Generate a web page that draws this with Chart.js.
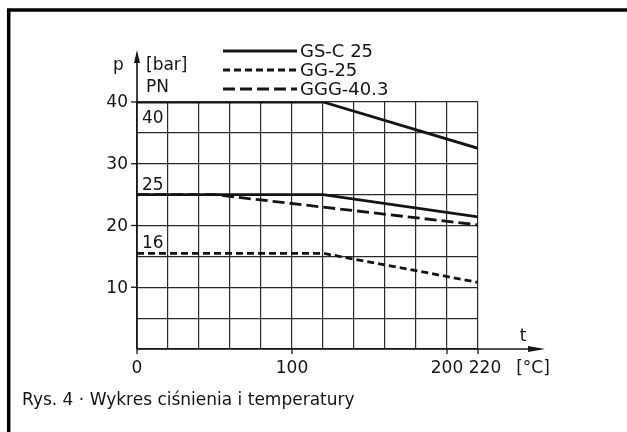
<!DOCTYPE html>
<html>
<head>
<meta charset="utf-8">
<script src="https://cdn.jsdelivr.net/npm/chart.js@4.4.0/dist/chart.umd.min.js"></script>
<style>
  body { margin: 0; background: #fff; }
  canvas { display: block; }
</style>
</head>
<body>
<canvas id="chart" width="627" height="432"></canvas>
<script>
let seriesNames = ["GS-C 25", "GG-25", "GGG-40.3"];

// GS-C 25 (PN 40 and PN 25)
let gsc40Temp = [0, 120, 220];
let gsc40Bar = [40, 40, 32.5];
let gsc25Temp = [0, 120, 220];
let gsc25Bar = [25, 25, 21.4];
// GG-25 (PN 16)
let gg16Temp = [0, 120, 220];
let gg16Bar = [15.5, 15.5, 10.8];
// GGG-40.3 (PN 25)
let ggg25Temp = [0, 50, 220];
let ggg25Bar = [25, 25, 20.1];

let xTickLabels = [0, 100, 200, 220];
let yTickLabels = [10, 20, 30, 40];
let pnLabels = ["40", "25", "16"];
let pnLevels = [40, 25, 15.5];

let caption = "Rys. 4 · Wykres ciśnienia i temperatury";

function toPoints(xs, ys) {
    var out = [];
    for (var i = 0; i < xs.length; i++) {
        out.push({x: xs[i], y: ys[i]});
    }
    return out;
}

let ink = "#141414";
let fontName = "'DejaVu Sans', sans-serif";
let dashes = [[], [7, 4], [12, 5]];

function line(ctx, x1, y1, x2, y2) {
    ctx.beginPath();
    ctx.moveTo(x1, y1);
    ctx.lineTo(x2, y2);
    ctx.stroke();
}

let extras = {
    id: "extras",
    beforeDraw(chart) {
        let ctx = chart.ctx;
        ctx.save();
        ctx.fillStyle = "#fff";
        ctx.fillRect(0, 0, chart.width, chart.height);
        // frame, open to the right and bottom
        ctx.strokeStyle = "#000";
        ctx.lineWidth = 3.5;
        ctx.beginPath();
        ctx.moveTo(8.7, chart.height + 5);
        ctx.lineTo(8.7, 10);
        ctx.lineTo(chart.width + 5, 10);
        ctx.stroke();
        ctx.restore();
    },
    afterDraw(chart) {
        let ctx = chart.ctx;
        let xs = chart.scales.x;
        let ys = chart.scales.y;
        let x0 = xs.getPixelForValue(0);
        let y0 = ys.getPixelForValue(0);
        ctx.save();
        ctx.strokeStyle = ink;
        ctx.fillStyle = ink;

        // axes with arrows
        ctx.lineWidth = 1.6;
        line(ctx, x0, y0, x0, 58);
        line(ctx, x0, y0, 535, y0);
        ctx.beginPath();
        ctx.moveTo(x0, 50);
        ctx.lineTo(x0 - 3, 63);
        ctx.lineTo(x0 + 3, 63);
        ctx.closePath();
        ctx.fill();
        ctx.beginPath();
        ctx.moveTo(545, y0);
        ctx.lineTo(528, y0 - 3);
        ctx.lineTo(528, y0 + 3);
        ctx.closePath();
        ctx.fill();

        // tick marks
        ctx.lineWidth = 1.3;
        yTickLabels.forEach(v => {
            let py = ys.getPixelForValue(v);
            line(ctx, x0 - 6, py, x0, py);
        });
        xTickLabels.forEach(v => {
            let px = xs.getPixelForValue(v);
            line(ctx, px, y0, px, y0 + 5);
        });

        ctx.font = "17px " + fontName;
        ctx.textBaseline = "middle";
        ctx.textAlign = "right";
        yTickLabels.forEach(v => {
            ctx.fillText(String(v), x0 - 9, ys.getPixelForValue(v) + 1);
        });
        ctx.textBaseline = "alphabetic";
        ctx.textAlign = "center";
        xTickLabels.forEach((v, i) => {
            let shift = (i == xTickLabels.length - 1) ? 7 : 0;
            ctx.fillText(String(v), xs.getPixelForValue(v) + shift, 373);
        });
        ctx.fillText("[°C]", 533, 373);
        ctx.fillText("t", 523, 341);

        ctx.textAlign = "left";
        ctx.fillText("p", 113, 70);
        ctx.fillText("[bar]", 146, 70);
        ctx.fillText("PN", 146, 92);

        // PN labels by the curves
        pnLabels.forEach((t, i) => {
            let py = ys.getPixelForValue(pnLevels[i]);
            let off = (i == 0) ? 21 : -5;
            ctx.fillText(t, x0 + 5, py + off);
        });

        // legend
        ctx.font = "18px " + fontName;
        seriesNames.forEach((name, i) => {
            let ly = 51 + i * 19;
            ctx.lineWidth = 2.8;
            ctx.setLineDash(dashes[i]);
            line(ctx, 223, ly, 297, ly);
            ctx.setLineDash([]);
            ctx.fillText(name, 300, ly + 6);
        });

        ctx.font = "17px " + fontName;
        ctx.fillText(caption, 22, 405);
        ctx.restore();
    }
};

function lineSet(label, pts, dash) {
    return {
        label: label,
        data: pts,
        borderColor: ink,
        borderWidth: 2.8,
        borderDash: dash,
        pointRadius: 0,
        fill: false,
        tension: 0
    };
}

let ctx = document.getElementById("chart");
let chart = new Chart(ctx, {
    type: "line",
    data: {
        datasets: [
            lineSet("GS-C 25 PN40", toPoints(gsc40Temp, gsc40Bar), dashes[0]),
            lineSet("GS-C 25 PN25", toPoints(gsc25Temp, gsc25Bar), dashes[0]),
            lineSet("GGG-40.3", toPoints(ggg25Temp, ggg25Bar), dashes[2]),
            lineSet("GG-25", toPoints(gg16Temp, gg16Bar), dashes[1])
        ]
    },
    options: {
        responsive: false,
        animation: false,
        events: [],
        layout: {
            padding: {left: 137, top: 102, right: 149, bottom: 83}
        },
        plugins: {
            legend: {display: false},
            tooltip: {enabled: false}
        },
        scales: {
            x: {
                type: "linear",
                min: 0,
                max: 220,
                ticks: {display: false, stepSize: 20},
                grid: {color: "#2a2a2a", lineWidth: 1.2, drawTicks: false},
                border: {display: false},
                afterFit: s => { s.height = 0; }
            },
            y: {
                min: 0,
                max: 40,
                ticks: {display: false, stepSize: 5},
                grid: {color: "#2a2a2a", lineWidth: 1.2, drawTicks: false},
                border: {display: false},
                afterFit: s => { s.width = 0; }
            }
        }
    },
    plugins: [extras]
});
</script>
</body>
</html>
